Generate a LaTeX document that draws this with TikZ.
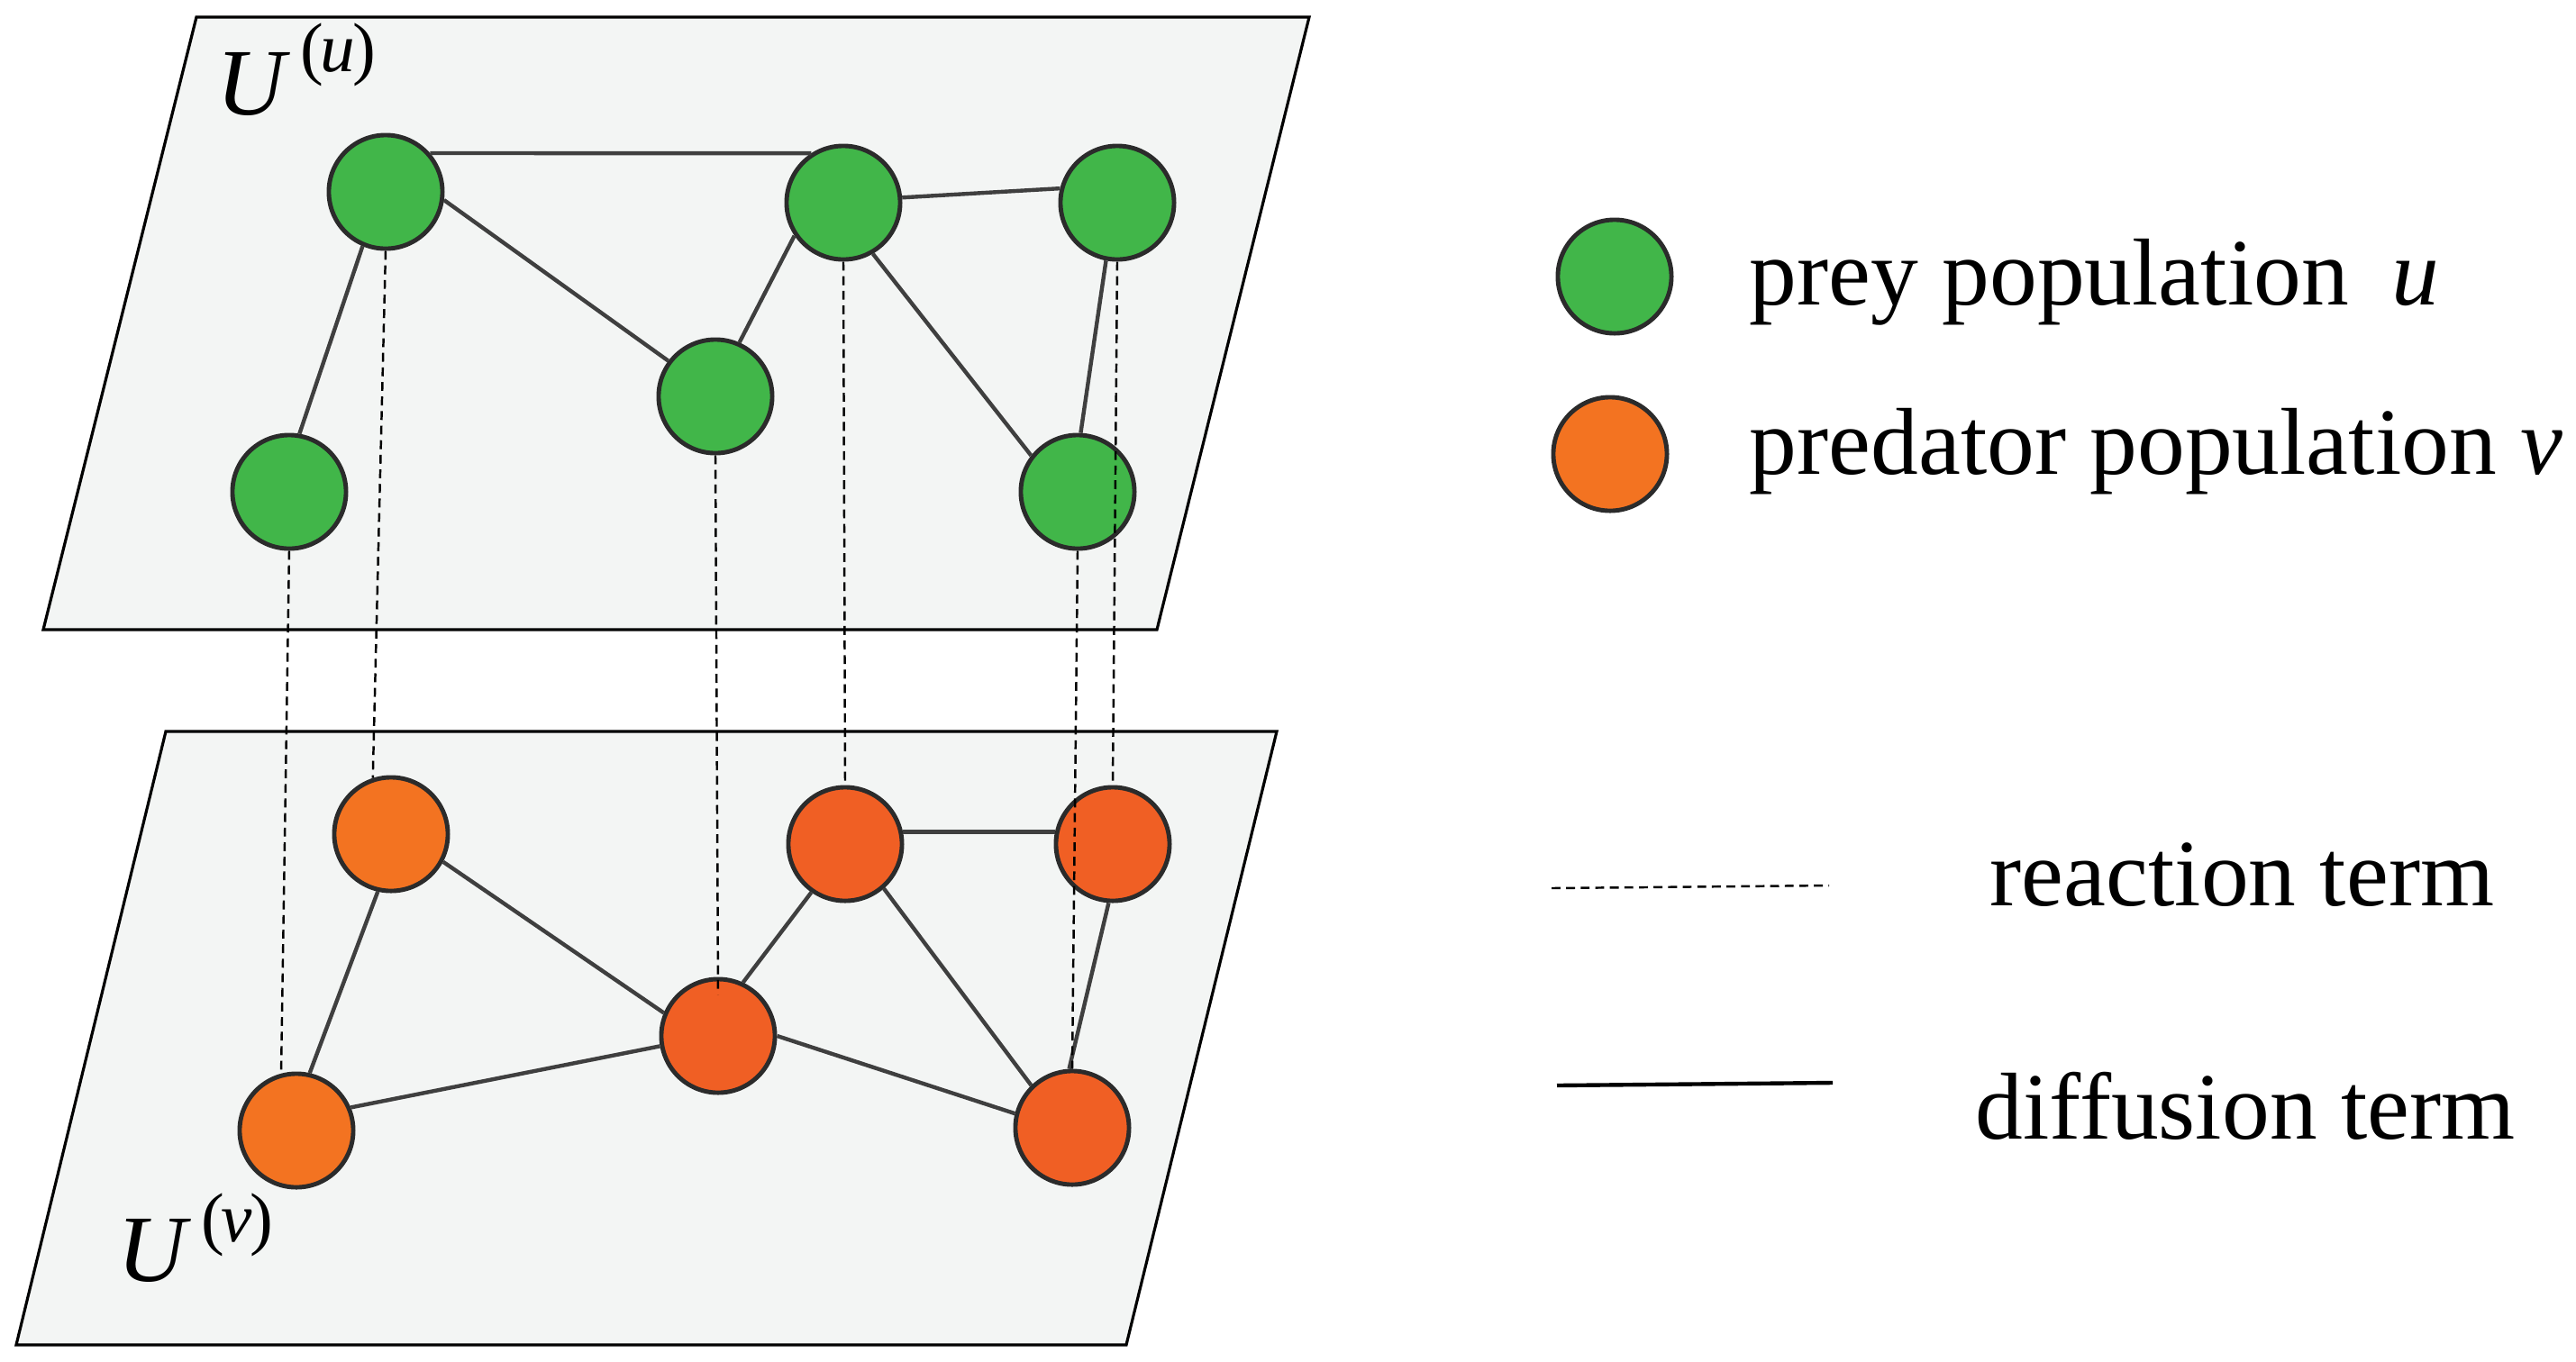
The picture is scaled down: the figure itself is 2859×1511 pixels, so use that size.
\documentclass[tikz,border=0pt]{standalone}
\usepackage{fontspec}
\setmainfont{Liberation Serif}
\usetikzlibrary{calc}

\definecolor{planefill}{HTML}{F3F5F4}
\definecolor{preyfill}{HTML}{41B649}
\definecolor{predA}{HTML}{F37321}
\definecolor{predB}{HTML}{F05F24}
\definecolor{nodeline}{HTML}{2B2B2B}
\definecolor{edgegray}{HTML}{3F3F3F}

\tikzset{
	prey/.style={circle, fill=preyfill, draw=nodeline, line width=1.4pt, minimum size=1.26cm, inner sep=0pt},
	pred/.style={prey, fill=predB},
	diff/.style={draw=edgegray, line width=1.25pt},
	react/.style={draw=black, line width=0.7pt, dash pattern=on 2.8pt off 1.8pt},
	plane/.style={fill=planefill, draw=black, line width=0.9pt},
	lbl/.style={font=\fontsize{30}{36}\selectfont, inner sep=0pt}
}

\begin{document}
\begin{tikzpicture}[x=0.01cm, y=-0.01cm]
	\useasboundingbox (0,0) rectangle (2859,1511);

	\draw[plane] (218,19) -- (1453,19) -- (1284,699) -- (48,699) -- cycle;
	\draw[plane] (184,812) -- (1417,812) -- (1250,1493) -- (18,1493) -- cycle;

	\node[lbl, anchor=base west] (Uu) at (240,127) {\textit{U}\hspace{0.1em}\raisebox{0.47cm}{\fontsize{22}{24}\selectfont(\kern-0.05em\textit{u}\kern-0.03em)}};
	\node[lbl, anchor=base west] (Uv) at (130,1422) {\textit{U}\hspace{0.1em}\raisebox{0.43cm}{\fontsize{22}{24}\selectfont(\kern-0.05em\textit{v}\kern-0.03em)}};

	\foreach \n/\x/\y in {1/428/213, 2/936/225, 3/1240/225, 4/794/440, 5/321/546, 6/1196/546}
		\node[prey] (g\n) at (\x,\y) {};

	\foreach \n/\x/\y/\c in {1/434/926/predA, 2/938/937/predB, 3/1235/937/predB, 4/329/1255/predA, 5/797/1150/predB, 6/1190/1252/predB}
		\node[pred, fill=\c] (o\n) at (\x,\y) {};

	\foreach \a/\b in {g1.41/g2.123, g1.-8/g4.143, g2.5/g3.166, g2.-146/g4.66, g2.-60/g6.142, g3.-101/g6.87, g1.-113/g5.80}
		\draw[diff] (\a) -- (\b);

	\foreach \a/\b in {o1.-103/o4.77, o1.-28/o5.157, o4.23/o5.-170, o5.65/o2.-125, o5.0/o6.166, o2.12/o3.168, o2.-49/o6.134, o3.-94/o6.93}
		\draw[diff] (\a) -- (\b);

	\draw[react] (g1.south) -- (o1.108);
	\draw[react] (g5.south) -- (o4.105);
	\draw[react] (g4.south) -- ($(o5.north)!0.3!(o5.center)$);
	\draw[react] (g2.south) -- (o2.north);
	\draw[react] (g3.south) -- (o3.north);
	\draw[react] (g6.south) -- (o6.north);

	\node[prey] (keyu) at (1792,307) {};
	\node[pred, fill=predA] (keyv) at (1787,504) {};
	\node[lbl, anchor=base west] (preytxt) at (1941,338) {prey population\hspace{0.45em}\textit{u}};
	\node[lbl, anchor=base west] (predtxt) at (1941,526) {predator population \textit{v}};

	\coordinate (r0) at (1722,986);
	\coordinate (r1) at (2030,983);
	\draw[react] (r0) -- (r1);
	\node[lbl, anchor=base west] (reacttxt) at (2208,1005) {reaction term};

	\coordinate (d0) at (1728,1205);
	\coordinate (d1) at (2034,1202);
	\draw[diff, draw=black] (d0) -- (d1);
	\node[lbl, anchor=base west] (difftxt) at (2192,1264) {diffusion term};
\end{tikzpicture}
\end{document}
